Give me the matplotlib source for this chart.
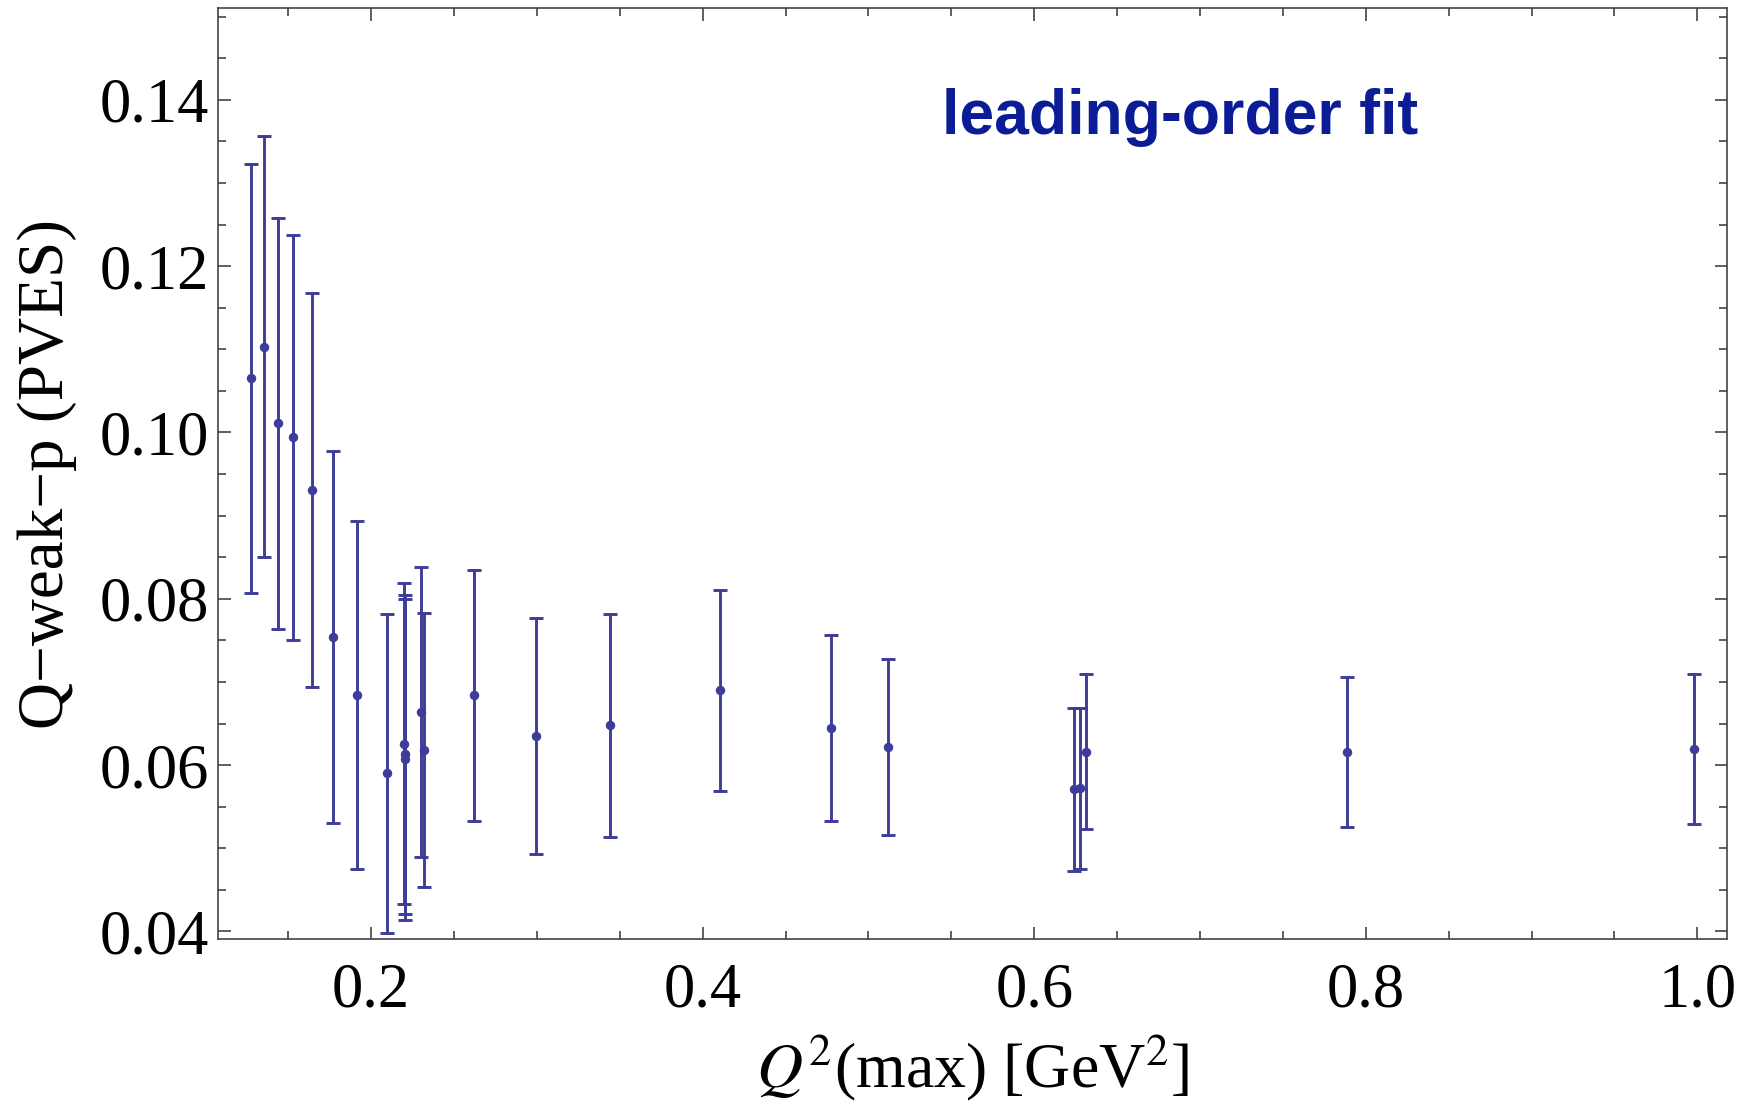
import matplotlib
matplotlib.use("Agg")
import matplotlib.pyplot as plt
from matplotlib.ticker import MultipleLocator, FormatStrFormatter

plt.rcParams["font.family"] = ["Liberation Serif", "DejaVu Serif"]
plt.rcParams["mathtext.fontset"] = "stix"

# Q^2(max) values [GeV^2], fitted Q-weak-p and its uncertainty
q2max = [0.1276, 0.1356, 0.1437, 0.1528, 0.1642, 0.1769, 0.1916, 0.2094,
         0.2200, 0.2203, 0.2207, 0.2299, 0.2319, 0.2621, 0.2993, 0.3443,
         0.4103, 0.4776, 0.5116, 0.6240, 0.6276, 0.6311, 0.7885, 0.9978]
qweak = [0.1065, 0.1103, 0.1011, 0.0994, 0.0931, 0.0754, 0.0684, 0.0590,
         0.0626, 0.0613, 0.0607, 0.0664, 0.0618, 0.0684, 0.0635, 0.0648,
         0.0690, 0.0645, 0.0622, 0.0571, 0.0572, 0.0616, 0.0616, 0.0619]
qweak_err = [0.0258, 0.0253, 0.0247, 0.0243, 0.0237, 0.0224, 0.0209, 0.0192,
             0.0193, 0.0192, 0.0193, 0.0174, 0.0165, 0.0151, 0.0142, 0.0134,
             0.0121, 0.0112, 0.0106, 0.0098, 0.0097, 0.0093, 0.0090, 0.0090]

col = "#3d3d99"

fig = plt.figure(figsize=(17.55, 11.04), dpi=100)
ax = fig.add_axes([0.1242, 0.1495, 0.8597, 0.843])

ax.errorbar(q2max, qweak, yerr=qweak_err, fmt="o", color=col, ms=5.8,
            elinewidth=2.1, capsize=5, capthick=2.1)

ax.set_xlim(0.1077, 1.0177)
ax.set_ylim(0.0391, 0.1510)

ax.xaxis.set_major_locator(MultipleLocator(0.2))
ax.xaxis.set_minor_locator(MultipleLocator(0.05))
ax.yaxis.set_major_locator(MultipleLocator(0.02))
ax.yaxis.set_minor_locator(MultipleLocator(0.005))
ax.xaxis.set_major_formatter(FormatStrFormatter("%.1f"))
ax.yaxis.set_major_formatter(FormatStrFormatter("%.2f"))

ax.tick_params(which="both", direction="in", top=True, right=True,
               color="#444444", width=1.2, labelsize=45)
ax.tick_params(which="major", length=9)
ax.tick_params(which="minor", length=5.5)
ax.tick_params(axis="x", pad=17)
ax.tick_params(axis="y", pad=6.5)
for s in ax.spines.values():
    s.set_color("#444444")
    s.set_linewidth(1.2)

ax.set_ylabel("Q\u2212weak\u2212p (PVES)", fontsize=47)
ax.yaxis.set_label_coords(-0.0935, 0.5)
ax.set_xlabel("$Q^2$(max) [GeV$^2$]", fontsize=46)
ax.xaxis.set_label_coords(0.5, -0.100)

ax.text(0.638, 0.883, "leading-order fit", transform=ax.transAxes,
        fontsize=45, fontweight="bold", color="#0b1c96",
        family="Liberation Sans", ha="center", va="center")

fig.savefig("out.png", dpi=100)
